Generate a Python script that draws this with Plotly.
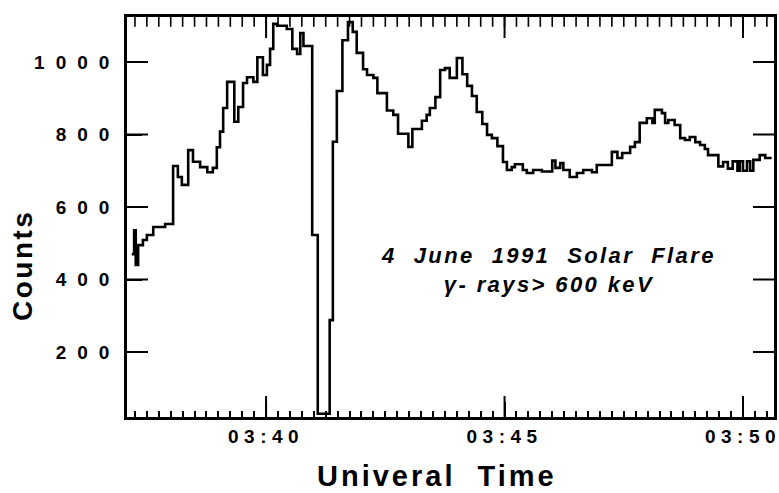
import pandas as pd
import plotly.graph_objects as go

DAY = "1991-06-04"

# Step change times (UT) and the count level that starts at each time
step_times = [
    "03:37:11", "03:37:14", "03:37:16", "03:37:19", "03:37:25", "03:37:30", "03:37:38", "03:37:53",
    "03:38:03", "03:38:09", "03:38:14", "03:38:22", "03:38:28", "03:38:37", "03:38:46", "03:38:53",
    "03:38:58", "03:39:02", "03:39:06", "03:39:11", "03:39:20", "03:39:25", "03:39:31", "03:39:36",
    "03:39:44", "03:39:49", "03:39:56", "03:40:01", "03:40:05", "03:40:09", "03:40:14", "03:40:26",
    "03:40:33", "03:40:39", "03:40:43", "03:40:47", "03:40:58", "03:41:05", "03:41:20", "03:41:24",
    "03:41:29", "03:41:36", "03:41:43", "03:41:49", "03:41:54", "03:42:02", "03:42:07", "03:42:15",
    "03:42:20", "03:42:32", "03:42:40", "03:42:46", "03:42:59", "03:43:04", "03:43:16", "03:43:22",
    "03:43:26", "03:43:33", "03:43:39", "03:43:45", "03:43:51", "03:44:00", "03:44:07", "03:44:13",
    "03:44:19", "03:44:25", "03:44:32", "03:44:38", "03:44:44", "03:44:51", "03:44:58", "03:45:03",
    "03:45:09", "03:45:13", "03:45:23", "03:45:28", "03:45:36", "03:45:47", "03:46:00", "03:46:04",
    "03:46:10", "03:46:14", "03:46:22", "03:46:31", "03:46:39", "03:46:50", "03:46:56", "03:47:15",
    "03:47:22", "03:47:28", "03:47:38", "03:47:44", "03:47:50", "03:47:59", "03:48:06", "03:48:09",
    "03:48:18", "03:48:22", "03:48:26", "03:48:34", "03:48:41", "03:48:47", "03:48:53", "03:49:00",
    "03:49:06", "03:49:12", "03:49:16", "03:49:29", "03:49:35", "03:49:41", "03:49:47", "03:49:53",
    "03:49:56", "03:50:00", "03:50:05", "03:50:09", "03:50:13", "03:50:21", "03:50:28", "03:50:36",
]
counts = [
    470, 536, 440, 495, 509, 523, 545, 553,
    713, 683, 661, 757, 725, 710, 696, 708,
    765, 808, 873, 945, 835, 876, 942, 958,
    945, 1013, 964, 992, 1036, 1105, 1100, 1091,
    1036, 1022, 1080, 1044, 523, 30, 288, 780,
    920, 1060, 1110, 1083, 1025, 980, 964, 956,
    914, 866, 854, 802, 766, 815, 838, 854,
    873, 903, 978, 983, 956, 1011, 966, 934,
    906, 862, 829, 799, 790, 768, 724, 702,
    710, 718, 702, 694, 702, 698, 728, 708,
    721, 702, 683, 694, 702, 696, 716, 752,
    735, 749, 766, 779, 832, 845, 832, 868,
    859, 832, 840, 826, 790, 785, 793, 779,
    771, 760, 743, 712, 724, 706, 726, 700,
    726, 700, 726, 700, 730, 743, 735, 735,
]

x_range = ["03:37:05", "03:50:39"]
x_major_ticks = ["03:40:00", "03:45:00", "03:50:00"]
x_tick_labels = ["03:40", "03:45", "03:50"]
x_minor_step = "15s"
y_range = [21, 1124]
y_tick_vals = [200, 400, 600, 800, 1000]
y_tick_labels = ["200", "400", "600", "800", "1000"]

FONT = "Liberation Sans, Arial, Helvetica, sans-serif"


def spaced(s, px):
    return f'<span style="letter-spacing:{px}px">{s}</span>'


x_vals = [f"{DAY} {t}" for t in step_times]
xr = [f"{DAY} {t}" for t in x_range]
x_major = [f"{DAY} {t}" for t in x_major_ticks]
x_minor = list(pd.date_range(pd.Timestamp(xr[0]).ceil(x_minor_step),
                             pd.Timestamp(xr[1]), freq=x_minor_step))

fig = go.Figure()
fig.add_trace(go.Scatter(
    x=x_vals, y=counts, mode="lines",
    line=dict(shape="hv", color="black", width=2.6),
    showlegend=False, hoverinfo="skip",
))


def tick_marks(xs, ys, symbol, size, width):
    # axis tick marks: half of each marker is clipped by the frame -> inward tick
    fig.add_trace(go.Scatter(
        x=xs, y=ys, mode="markers", cliponaxis=True,
        marker=dict(symbol=symbol, size=size, color="black",
                    line=dict(color="black", width=width)),
        showlegend=False, hoverinfo="skip",
    ))


# top edge: minor and major ticks pointing down
tick_marks(x_minor, [y_range[1]] * len(x_minor), "line-ns", 14, 1.6)
tick_marks(x_major, [y_range[1]] * len(x_major), "line-ns", 30, 2)
# bottom edge: major ticks pointing up (minor ones drawn by the axis)
tick_marks(x_major, [y_range[0]] * len(x_major), "line-ns", 30, 2)
# left and right edges: count ticks pointing inward
tick_marks([xr[0]] * len(y_tick_vals), y_tick_vals, "line-ew", 30, 2)
tick_marks([xr[1]] * len(y_tick_vals), y_tick_vals, "line-ew", 30, 2)

fig.update_layout(
    template="none",
    xaxis=dict(
        type="date", range=xr, tickformat="%H:%M",
        tickmode="linear", tick0=x_major[0], dtick=300000,
        labelalias={s: spaced(s, 5.5) for s in x_tick_labels},
        ticks="inside", ticklen=15, tickwidth=2, tickcolor="black",
        showline=True, linecolor="black", linewidth=2.6, mirror=True,
        showgrid=False, zeroline=False, ticklabeloverflow="allow",
        tickfont=dict(family=FONT, size=19, color="black", weight="bold"),
        minor=dict(ticks="inside", ticklen=6, tickwidth=1.5, tickcolor="black",
                   tickmode="linear", dtick=15000, tick0=x_major[0], showgrid=False),
    ),
    yaxis=dict(
        range=y_range,
        tickmode="linear", tick0=0, dtick=200,
        labelalias={s: spaced(s, 11) for s in y_tick_labels},
        ticks="inside", ticklen=15, tickwidth=2, tickcolor="black",
        showline=True, linecolor="black", linewidth=2.6, mirror=True,
        showgrid=False, zeroline=False,
        tickfont=dict(family=FONT, size=19, color="black", weight="bold"),
    ),
)

fig.add_annotation(
    text="<b><i>" + spaced("4  June  1991  Solar  Flare", 2.4) + "<br>"
         + spaced("γ- rays&gt; 600 keV", 2.4) + "</i></b>",
    xref="paper", yref="paper", x=0.651, y=0.3675, xanchor="center", yanchor="middle",
    showarrow=False, font=dict(family=FONT, size=22, color="black"), align="center",
)
fig.add_annotation(
    text="<b>" + spaced("Counts", 2.5) + "</b>",
    xref="paper", yref="paper", x=-0.1623, y=0.38, xanchor="center", yanchor="middle",
    showarrow=False, textangle=-90,
    font=dict(family=FONT, size=28, color="black"),
)
fig.add_annotation(
    text="<b>" + spaced("Univeral  Time", 3) + "</b>",
    xref="paper", yref="paper", x=0.479, y=-0.1475, xanchor="center", yanchor="middle",
    showarrow=False, font=dict(family=FONT, size=29, color="black"),
)

fig.update_layout(
    width=779, height=493, autosize=False,
    margin=dict(l=127, r=5, t=17, b=76),
    paper_bgcolor="white", plot_bgcolor="white",
)

fig.write_html("out.html", config={"displayModeBar": False},
               post_script="document.body.style.margin='0px';")
